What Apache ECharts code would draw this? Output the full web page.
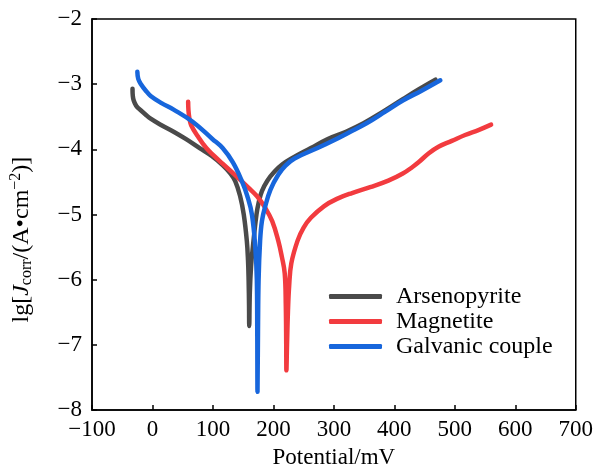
<!DOCTYPE html>
<html>
<head>
<meta charset="utf-8">
<script src="https://cdn.jsdelivr.net/npm/echarts@6/dist/echarts.min.js"></script>
<style>
  html, body { margin: 0; padding: 0; background: #fff; }
  #main { width: 596px; height: 474px; }
</style>
</head>
<body>
<div id="main"></div>
<script>
// potential (mV) vs lg current density
const arsenopyrite = [
  [-33, -3.07], [-32.5, -3.18], [-31, -3.25], [-27, -3.33], [-22, -3.38], [-12, -3.46], [-3, -3.53],
  [15, -3.63], [35, -3.73], [55, -3.84], [78, -3.98], [98, -4.10], [116, -4.24], [128, -4.36],
  [137, -4.49], [145, -4.72], [151, -5.0], [156, -5.40], [158, -5.7], [159, -6.0], [159.7, -6.4],
  [160, -6.71], [161, -6.2], [163, -5.8], [166, -5.5], [172, -5.0], [176, -4.80], [181, -4.64],
  [190, -4.48], [202, -4.34], [215, -4.23], [230, -4.14], [262, -3.98], [290, -3.84], [320, -3.73],
  [349, -3.60], [380, -3.43], [414, -3.23], [440, -3.08], [468, -2.93]
]
const magnetite = [
  [59, -3.27], [59.5, -3.40], [61, -3.52], [64, -3.63], [75, -3.80], [89, -3.98], [102, -4.10],
  [116, -4.22], [135, -4.38], [159, -4.59], [173, -4.72], [186, -4.89], [198, -5.10], [208, -5.40],
  [214, -5.65], [218.7, -5.90], [220.5, -6.4], [221.2, -7.0], [221.5, -7.39], [222.5, -7.0],
  [224, -6.5], [226, -6.1], [229.6, -5.75], [240, -5.40], [250, -5.20], [262, -5.05], [284, -4.87],
  [305, -4.76], [330, -4.67], [360, -4.58], [390, -4.48], [414, -4.37], [430, -4.27], [441, -4.19],
  [457, -4.06], [473, -3.96], [495, -3.87], [517, -3.78], [540, -3.70], [560, -3.62]
]
const galvanic = [
  [-25, -2.81], [-23.5, -2.92], [-19, -3.0], [-11, -3.10], [-3, -3.18], [15, -3.29], [35, -3.39],
  [67, -3.58], [99, -3.84], [116, -3.98], [133, -4.20], [148, -4.49], [157, -4.72], [164.5, -5.0],
  [170, -5.5], [172.6, -6.0], [173.3, -6.8], [173.7, -7.72], [174.5, -6.8], [175.5, -6.0],
  [178, -5.40], [181, -5.10], [186, -4.89], [195, -4.62], [208, -4.39], [220, -4.25], [235, -4.14],
  [273, -3.98], [300, -3.86], [325, -3.74], [354, -3.60], [385, -3.42], [414, -3.25], [445, -3.10],
  [476, -2.94]
]
const seriesNames = ['Arsenopyrite', 'Magnetite', 'Galvanic couple']
const seriesColors = ['#4a4a4a', '#f23b3f', '#1766dc']

const serif = 'Liberation Serif'
const minus = v => String(v).replace('-', '\u2212')

const chart = echarts.init(document.getElementById('main'))

chart.setOption({
  backgroundColor: '#fff',
  animation: false,
  grid: {
    left: 84, right: 20, top: 19, bottom: 59,
    show: true, borderColor: '#000', borderWidth: 1.5
  },
  legend: {
    orient: 'vertical',
    left: 329, top: 284,
    padding: 0,
    itemWidth: 53, itemHeight: 5,
    itemGap: 0,
    icon: 'roundRect',
    textStyle: { fontFamily: serif, fontSize: 24, color: '#000', lineHeight: 25, padding: [0, 0, 0, 9] },
    data: seriesNames
  },
  xAxis: {
    type: 'value',
    min: -100, max: 700, interval: 100,
    name: 'Potential/mV',
    nameLocation: 'middle',
    nameGap: 35,
    nameTextStyle: { fontFamily: serif, fontSize: 23, color: '#000' },
    axisLine: { onZero: false, lineStyle: { color: '#000', width: 1.5 } },
    axisTick: { inside: true, length: 5, lineStyle: { color: '#000', width: 1.5 } },
    axisLabel: { fontFamily: serif, fontSize: 23, color: '#000', margin: 8, formatter: minus },
    splitLine: { show: false }
  },
  yAxis: {
    type: 'value',
    min: -8, max: -2, interval: 1,
    name: '{n|lg[}{i|J}{sub|corr}{n|/(A\u2022cm}{sup|\u22122}{n|)]}',
    nameLocation: 'middle',
    nameGap: 57,
    nameTextStyle: {
      padding: [0, 50, 0, 0],
      rich: {
        n: { fontFamily: serif, fontSize: 24, color: '#000', lineHeight: 27 },
        i: { fontFamily: serif, fontSize: 24, fontStyle: 'italic', color: '#000', lineHeight: 27 },
        sub: { fontFamily: serif, fontSize: 16, color: '#000', verticalAlign: 'bottom', lineHeight: 27 },
        sup: { fontFamily: serif, fontSize: 16, color: '#000', verticalAlign: 'top', lineHeight: 27 }
      }
    },
    axisLine: { onZero: false, lineStyle: { color: '#000', width: 1.5 } },
    axisTick: { inside: true, length: 5, lineStyle: { color: '#000', width: 1.5 } },
    axisLabel: { fontFamily: serif, fontSize: 23, color: '#000', margin: 10, formatter: minus },
    splitLine: { show: false }
  },
  series: [arsenopyrite, magnetite, galvanic].map((data, i) => ({
    name: seriesNames[i],
    type: 'line',
    data: data,
    showSymbol: false,
    smooth: 0.4,
    color: seriesColors[i],
    lineStyle: { width: 4.5, color: seriesColors[i], cap: 'round', join: 'round' }
  }))
})
</script>
</body>
</html>
